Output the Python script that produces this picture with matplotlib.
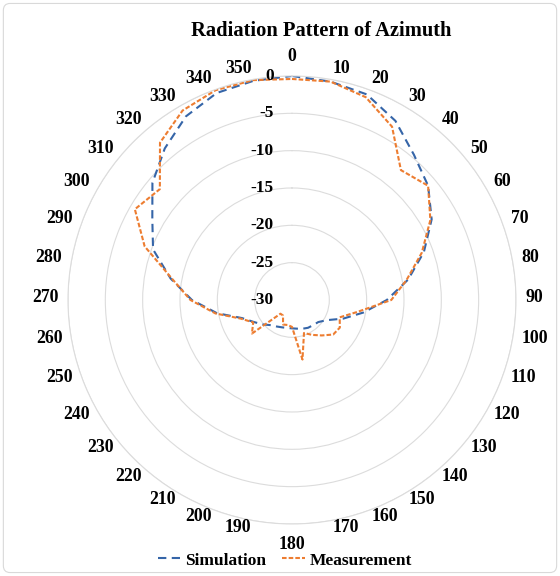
import numpy as np
import matplotlib
matplotlib.use("Agg")
import matplotlib.pyplot as plt
from matplotlib.lines import Line2D
from matplotlib.patches import FancyBboxPatch

plt.rcParams["font.family"] = ["Liberation Serif", "DejaVu Serif"]
plt.rcParams["font.weight"] = "bold"

# azimuth angles (deg) and gain (dB)
angles = [0, 10, 20, 30, 40, 50, 60, 70, 80, 90, 100, 110,
          120, 130, 140, 150, 160, 170, 180, 190, 200, 210, 220, 230,
          240, 250, 260, 270, 280, 290, 300, 310, 320, 330, 340, 350]

simulation = [0.0, -0.3, -0.7, -2.3, -4.6, -6.2, -8.4, -11.2, -14.2, -17.3, -20.3, -22.7,
              -24.6, -25.4, -25.6, -25.7, -25.9, -26.1, -26.2, -26.2, -26.1, -25.9, -25.6, -24.9,
              -24.1, -22.9, -19.8, -16.6, -13.5, -10.2, -8.4, -5.6, -3.5, -1.6, -0.5, -0.2]

measurement = [-0.4, -0.3, -1.1, -3.2, -7.3, -6.2, -8.6, -11.5, -14.4, -16.7, -21.0, -23.2,
               -22.6, -22.8, -23.8, -24.6, -25.3, -21.9, -26.4, -26.6, -26.5, -27.6, -27.6, -23.0,
               -24.0, -22.7, -19.6, -16.4, -13.7, -9.0, -5.7, -6.9, -2.5, -0.7, -0.1, -0.1]

r_ticks = [0, -5, -10, -15, -20, -25, -30]

blue = "#3565A8"
orange = "#ED7D31"
grid_c = "#DCDCDC"

fig = plt.figure(figsize=(5.6, 5.76), dpi=100)
ax = fig.add_axes([0.1214, 0.0903, 0.8, 0.7778], projection="polar")
ax.set_theta_zero_location("N")
ax.set_theta_direction(-1)

th = np.deg2rad(angles + [angles[0]])
ax.plot(th, simulation + [simulation[0]], color=blue, lw=1.5, dashes=(4, 2.6))
ax.plot(th, measurement + [measurement[0]], color=orange, lw=1.5, dashes=(2.2, 1.0))

ax.set_ylim(-30, 0)
ax.set_yticks(r_ticks)
ax.set_yticklabels([])
ax.yaxis.grid(True, color=grid_c, lw=0.8)
ax.set_xticks(np.deg2rad(angles))
ax.set_xticklabels([])
ax.xaxis.grid(False)
ax.spines["polar"].set_color(grid_c)
ax.spines["polar"].set_linewidth(0.8)

# angle labels outside the ring, Excel-style alignment
for a in angles:
    s, c = np.sin(np.deg2rad(a)), np.cos(np.deg2rad(a))
    if abs(s) < 1e-6:
        ha = "center"
        va = "bottom" if c > 0 else "top"
    else:
        ha = "left" if s > 0 else "right"
        va = "center"
    extra = -3.5 if a == 180 else 0
    ax.annotate(str(a), xy=(np.deg2rad(a), 0), xytext=(6.5 * s, 6.5 * c + 1.5 + extra),
                textcoords="offset points", ha=ha, va=va, fontsize=12.8,
                fontweight="bold", annotation_clip=False)

# radial value labels left of the vertical axis
for v in r_ticks:
    ax.annotate(str(v), xy=(0, v), xytext=(-13, 0), textcoords="offset points",
                ha="right", va="center", fontsize=12.5, fontweight="bold")

fig.text(0.573, 0.946, "Radiation Pattern of Azimuth", ha="center", va="center",
         fontsize=14.8, fontweight="bold")

handles = [Line2D([], [], color=blue, lw=1.5, dashes=(4, 2.6)),
           Line2D([], [], color=orange, lw=1.5, dashes=(2.2, 1.0))]
fig.legend(handles, ["Simulation", "Measurement"], loc="center", ncol=2,
           bbox_to_anchor=(0.509, 0.027), frameon=False, fontsize=12.5,
           handlelength=1.3, handletextpad=0.3, columnspacing=0.9)

fig.patches.append(FancyBboxPatch((0.006, 0.006), 0.988, 0.988,
                                  boxstyle="round,pad=0,rounding_size=0.012",
                                  transform=fig.transFigure, fill=False,
                                  edgecolor="#D9D9D9", lw=0.8))

fig.savefig("out.png", dpi=100)
